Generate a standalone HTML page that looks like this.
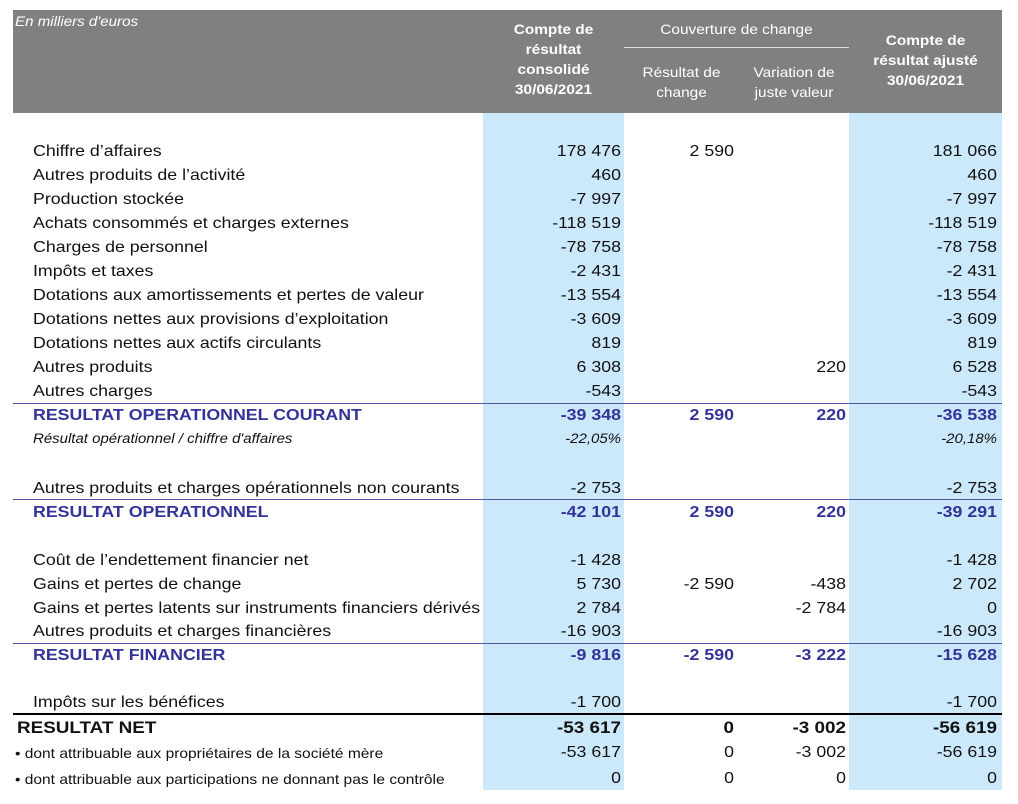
<!DOCTYPE html>
<html><head><meta charset="utf-8"><style>
body{margin:0;width:1018px;height:804px;background:#fff;position:relative;font-family:"Liberation Sans",sans-serif;overflow:hidden}
div{position:absolute}
.b{background:#cce9fb}
.h{color:#fff;text-align:center;font-size:14px;line-height:20px;transform:scaleX(1.1);transform-origin:center}
.r{height:20px;line-height:20px;font-size:16px;color:#111;white-space:nowrap;transform:scaleX(1.11);transform-origin:left center}
.n{text-align:right;width:140px;transform-origin:right center}
.ln{height:1px;background:#5555aa;left:13px;width:989px}
</style></head><body>
<div style="left:13px;top:10px;width:989px;height:103px;background:#808080"></div>
<div class="b" style="left:483px;top:113px;width:141px;height:677px"></div>
<div class="b" style="left:849px;top:113px;width:153px;height:677px"></div>
<div style="left:15px;top:13px;color:#fff;font-style:italic;font-size:14px;transform:scaleX(1.08);transform-origin:left">En milliers d'euros</div>
<div class="h" style="left:483px;top:19px;width:141px;font-weight:bold">Compte de<br>résultat<br>consolidé<br>30/06/2021</div>
<div class="h" style="left:624px;top:19px;width:225px">Couverture de change</div>
<div style="left:624px;top:47px;width:225px;height:1px;background:#ddd"></div>
<div class="h" style="left:624px;top:62px;width:115px">Résultat de<br>change</div>
<div class="h" style="left:739px;top:62px;width:110px">Variation de<br>juste valeur</div>
<div class="h" style="left:849px;top:30px;width:153px;font-weight:bold">Compte de<br>résultat ajusté<br>30/06/2021</div>
<div class="ln" style="top:403px"></div>
<div class="ln" style="top:499px"></div>
<div class="ln" style="top:643px"></div>
<div style="left:13px;top:713px;width:989px;height:2px;background:#000"></div>
<div id="rows"></div>
<script>
var R=[
[152,"Chiffre d’affaires","178 476","2 590","","181 066"],
[176,"Autres produits de l’activité","460","","","460"],
[200,"Production stockée","-7 997","","","-7 997"],
[224,"Achats consommés et charges externes","-118 519","","","-118 519"],
[248,"Charges de personnel","-78 758","","","-78 758"],
[272,"Impôts et taxes","-2 431","","","-2 431"],
[296,"Dotations aux amortissements et pertes de valeur","-13 554","","","-13 554"],
[320,"Dotations nettes aux provisions d’exploitation","-3 609","","","-3 609"],
[344,"Dotations nettes aux actifs circulants","819","","","819"],
[368,"Autres produits","6 308","","220","6 528"],
[392,"Autres charges","-543","","","-543"],
[416,"RESULTAT OPERATIONNEL COURANT","-39 348","2 590","220","-36 538","bl"],
[439,"Résultat opérationnel / chiffre d'affaires","-22,05%","","","-20,18%","it"],
[489,"Autres produits et charges opérationnels non courants","-2 753","","","-2 753"],
[513,"RESULTAT OPERATIONNEL","-42 101","2 590","220","-39 291","bl"],
[561,"Coût de l’endettement financier net","-1 428","","","-1 428"],
[585,"Gains et pertes de change","5 730","-2 590","-438","2 702"],
[609,"Gains et pertes latents sur instruments financiers dérivés","2 784","","-2 784","0"],
[632,"Autres produits et charges financières","-16 903","","","-16 903"],
[656,"RESULTAT FINANCIER","-9 816","-2 590","-3 222","-15 628","bl"],
[703,"Impôts sur les bénéfices","-1 700","","","-1 700"],
[728,"RESULTAT NET","-53 617","0","-3 002","-56 619","net"],
[753,"•  dont attribuable aux propriétaires de la société mère","-53 617","0","-3 002","-56 619","sm"],
[779,"•  dont attribuable aux participations ne donnant pas le contrôle","0","0","0","0","sm"]];
var h="",X=[621,734,846,997];
R.forEach(function(r){var c=r[6]||"",st="",lx=33,ls="";
if(c=="bl")st="color:#333399;font-weight:bold;";
if(c=="it"){st="font-style:italic;font-size:13.5px;";}
if(c=="net"){st="font-weight:bold;font-size:17px;";lx=17;}
if(c=="sm"){ls="font-size:14px;";lx=15;}
h+='<div class="r" style="left:'+lx+'px;top:'+(r[0]-10)+'px;'+st+ls+'">'+r[1]+'</div>';
for(var i=0;i<4;i++)if(r[i+2])h+='<div class="r n" style="left:'+(X[i]-140)+'px;top:'+(r[0]-10)+'px;'+st+'">'+r[i+2]+'</div>';});
document.getElementById("rows").innerHTML=h;
</script>
</body></html>
